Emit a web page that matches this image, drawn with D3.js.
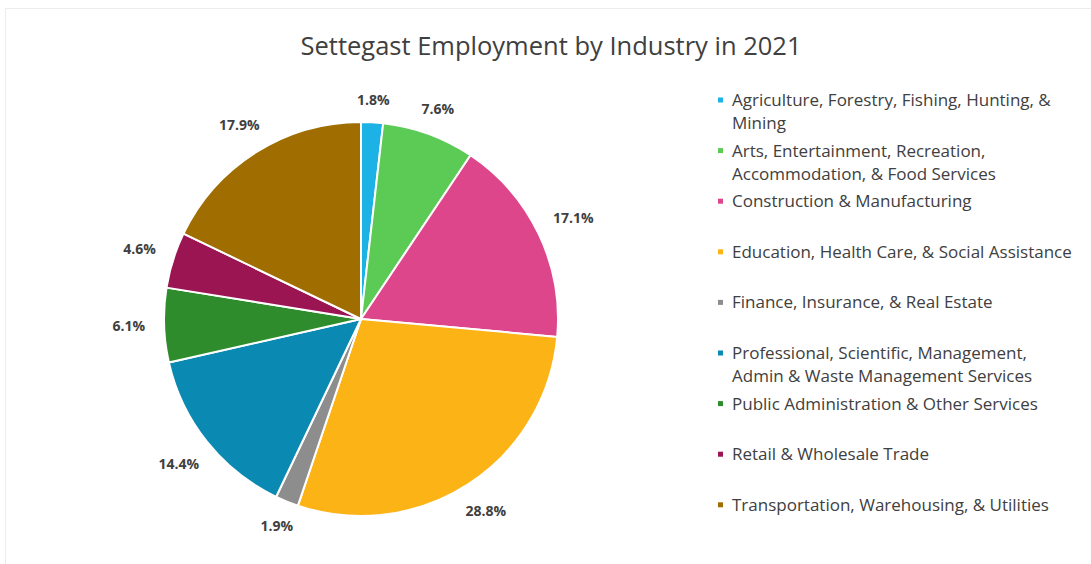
<!DOCTYPE html>
<html>
<head>
<meta charset="utf-8">
<script src="https://cdn.jsdelivr.net/npm/d3@7"></script>
<style>
  html, body { margin: 0; padding: 0; background: #fff; }
  svg { display: block; }
</style>
</head>
<body>
<svg id="chart" width="1091" height="564"></svg>
<script>
// Employment share by industry (percent), Settegast, 2021
const industries = [
  "Agriculture, Forestry, Fishing, Hunting, &\nMining",
  "Arts, Entertainment, Recreation,\nAccommodation, & Food Services",
  "Construction & Manufacturing",
  "Education, Health Care, & Social Assistance",
  "Finance, Insurance, & Real Estate",
  "Professional, Scientific, Management,\nAdmin & Waste Management Services",
  "Public Administration & Other Services",
  "Retail & Wholesale Trade",
  "Transportation, Warehousing, & Utilities"
];
const shares = [1.8, 7.6, 17.1, 28.8, 1.9, 14.4, 6.1, 4.6, 17.9];
const sliceColors = [
  "#1cb2e6", "#5ccb55", "#de468c", "#fcb316", "#8d8d8d",
  "#0a89b3", "#2f8c2c", "#9a1551", "#a06d00"
];
const chartTitle = "Settegast Employment by Industry in 2021";

const W = 1091, H = 564;
const FONT = "'Open Sans', Lato, 'DejaVu Sans', sans-serif";
const TEXT = "#404040";

const svg = d3.select("#chart");

// faint chart-area frame
svg.append("rect")
  .attr("x", 5.5).attr("y", 8.5)
  .attr("width", W - 4).attr("height", H)
  .attr("fill", "none")
  .attr("stroke", "#ececec")
  .attr("stroke-width", 1);

// title
svg.append("text")
  .attr("x", 551).attr("y", 55)
  .attr("text-anchor", "middle")
  .attr("font-family", FONT)
  .attr("font-size", 25.5)
  .attr("fill", TEXT)
  .text(chartTitle);

// pie
const cx = 361, cy = 319, R = 197;
const data = industries.map((name, i) => ({ name, value: shares[i], color: sliceColors[i] }));

const pie = d3.pie().sort(null).value(d => d.value);
const arcs = pie(data);
const arc = d3.arc().innerRadius(0).outerRadius(R);

const g = svg.append("g").attr("transform", `translate(${cx},${cy})`);

g.selectAll("path.slice")
  .data(arcs)
  .join("path")
  .attr("class", "slice")
  .attr("d", arc)
  .attr("fill", d => d.data.color)
  .attr("stroke", "#fff")
  .attr("stroke-width", 2)
  .attr("stroke-linejoin", "round");

// outside-end percentage labels
const labels = g.selectAll("text.pct")
  .data(arcs)
  .join("text")
  .attr("class", "pct")
  .attr("font-family", FONT)
  .attr("font-size", 14)
  .attr("font-weight", 700)
  .attr("fill", TEXT)
  .attr("text-anchor", "middle")
  .attr("dy", "0.35em")
  .text(d => d3.format(".1f")(d.data.value) + "%");

labels.each(function (d) {
  const w = this.getComputedTextLength();
  const h = 4;
  const a = (d.startAngle + d.endAngle) / 2;
  const sx = Math.sin(a), sy = -Math.cos(a);
  const dist = R + 19 + Math.abs(sx) * w / 2 + Math.abs(sy) * h / 2;
  d3.select(this).attr("x", sx * dist).attr("y", sy * dist);
});

// legend
const legX = 718, legY = 100, legStep = 50.6, lineGap = 23;
const leg = svg.append("g");
const items = leg.selectAll("g.item")
  .data(data)
  .join("g")
  .attr("class", "item")
  .attr("transform", (d, i) => `translate(${legX},${legY + i * legStep})`);

items.append("rect")
  .attr("x", 0).attr("y", -2.5)
  .attr("width", 5).attr("height", 5)
  .attr("fill", d => d.color);

items.append("text")
  .attr("font-family", FONT)
  .attr("font-size", 17)
  .attr("fill", TEXT)
  .selectAll("tspan")
  .data(d => d.name.split("\n"))
  .join("tspan")
  .attr("x", 14)
  .attr("y", (d, j) => j * lineGap)
  .attr("dy", "0.35em")
  .text(d => d);
</script>
</body>
</html>
